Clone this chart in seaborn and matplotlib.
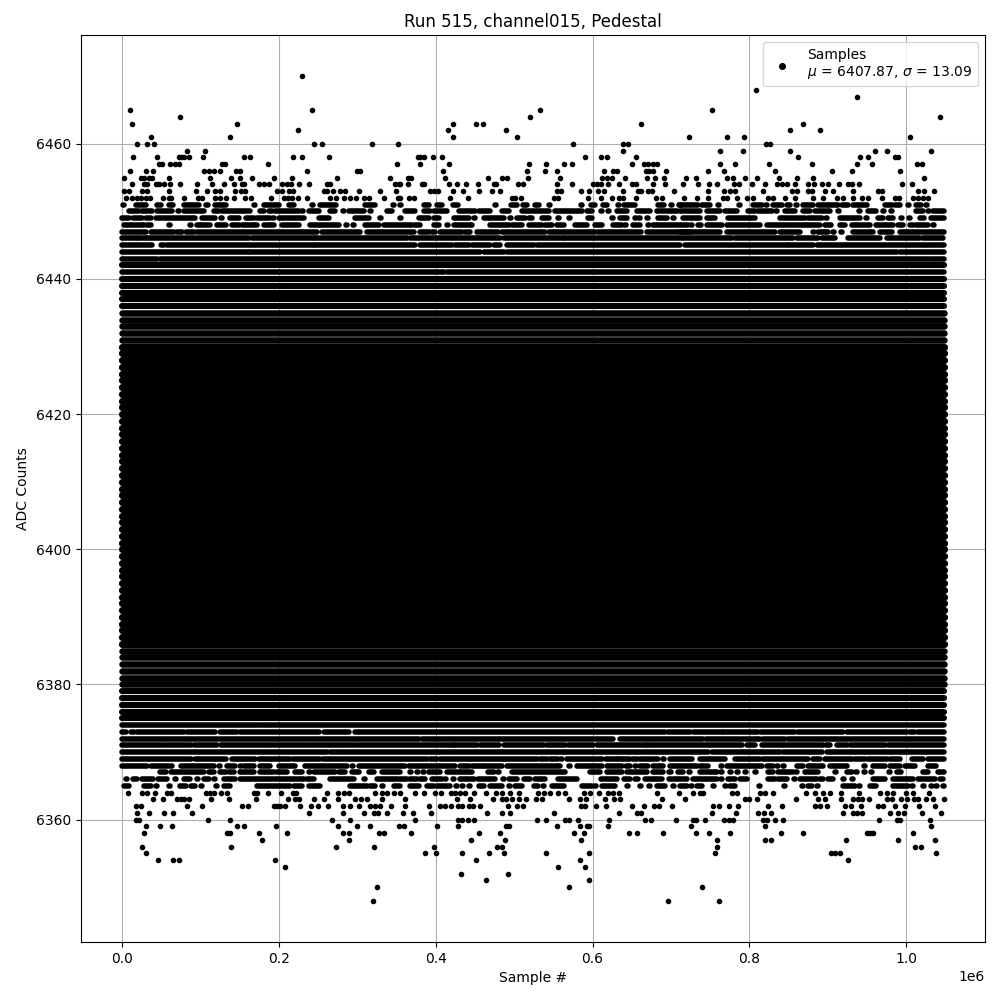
import matplotlib
matplotlib.use("Agg")
import matplotlib.pyplot as plt
import pandas as pd
import seaborn as sns

# ==========================================
# Values (samples in thousands)
# ==========================================
FIRST_SAMPLE = 0
LAST_SAMPLE = 1048

# sparse rows: every dot on the row
sparse_top = {
    6470: [229.1],
    6468: [808.8],
    6467: [937.4],
    6465: [10, 241.9, 532.3, 752.7],
    6464: [73.7, 519.6, 1043.2],
    6463: [12.5, 146.3, 421.5, 450.8, 459.7, 662.3, 868.6],
    6462: [224, 415.1, 489, 852.1, 890.3],
    6461: [36.7, 137.4, 421.5, 503, 723.4, 771.8, 793.5, 1005],
    6460: [18.9, 31.6, 40.6, 244.4, 254.6, 318.3, 351.4, 574.4, 639.4, 645.7, 821.1, 826.6],
    6459: [82.6, 105.5, 639.4, 762.9, 792.2, 852.1, 960.4, 975.7, 1031.7],
    6458: [13.8, 44.4, 72.4, 75.4, 78.8, 85.1, 103, 155.2, 162.9, 217.6, 229.1, 263.5,
           376.9, 380.3, 384.5, 396, 407.5, 589.7, 611.3, 619, 655.9, 862.3, 941.3, 951.5, 985.4, 989.7],
    6457: [46.9, 51.2, 61, 66.9, 72.4, 127.2, 130.6, 185.8, 350.1, 379.4, 416.4, 518.3, 541.2,
           562.9, 573.1, 650.8, 666.1, 671.2, 677.6, 682.7, 762.9, 782, 825.3, 880.1, 937.4, 956.6, 1013.9, 1020.3],
    6456: [10, 30.4, 39.3, 104.3, 110.6, 117, 124.6, 145, 150.1, 235.5, 299.6, 303, 408.7, 515.8,
           538.7, 554, 615.1, 626.6, 631.7, 668.2, 672.5, 677.6, 694.1, 747.2, 768, 832.9, 905.6, 931.1, 992.2],
    6455: [2.3, 23.6, 27.8, 34.2, 37.6, 59.7, 112.7, 138.7, 150.1, 165.4, 193.4, 216.4, 273.7, 341.2,
           364.1, 368.4, 411.3, 466, 483.9, 490.3, 517, 557.8, 612.6, 619, 625.3, 641.9, 669.9, 680.1,
           691.6, 719.6, 732.3, 771.8, 779.5, 794.7, 810, 838, 861, 881.4, 1022.8],
    6454: [12.5, 27.8, 32, 42.7, 46.9, 53.3, 60.9, 73.7, 95.3, 114.4, 129.7, 142.5, 153.1, 156, 174.3,
           180.7, 187.9, 204, 210.4, 215.5, 225.3, 238, 261.4, 264.8, 348.5, 352.7, 354.8, 364.1, 382.4,
           385.4, 416.4, 426.6, 438, 453.3, 473.7, 477.1, 504.3, 510.7, 554, 573.1, 601.1, 605.4, 611.3,
           620.2, 634.3, 650, 655.5, 677.6, 692.9, 715.7, 734.9, 748.9, 759.1, 780.7, 787.1, 803.7, 820.2,
           834.7, 841, 847.4, 858, 875, 882.7, 892.8, 900.5, 914.5, 926, 930.2, 940, 994.8, 1007.5],
    6453: [2.3, 8.7, 25.7, 32, 59.7, 94, 108.1, 119.1, 124.6, 143.7, 151.8, 157.3, 197.7, 204, 212.6,
           218.1, 257.1, 261.4, 268.6, 277.5, 283.9, 301.7, 328.5, 348.9, 393, 397.3, 402.4, 421.5, 434.2,
           454.6, 471.2, 481.4, 554.4, 559.5, 584.6, 596, 607.5, 615.1, 639.4, 658.5, 661.4, 671.2, 675.5,
           704.3, 747.2, 768, 775.2, 781.6, 816.8, 853.8, 860.1, 875, 879.3, 896.7, 906.9, 932.3, 964.2,
           968.9, 1015.2, 1022.8, 1035.5],
    6452: [4.9, 12.5, 19.3, 23.6, 29.9, 35.5, 52, 59.7, 62.6, 78.8, 96.6, 102.1, 119.1, 124.6, 131.9,
           142.5, 156.5, 164.1, 189.6, 206.2, 211.3, 216.8, 224, 235.5, 264.8, 272.4, 282.6, 290.3, 297.9,
           308.1, 314.5, 333.6, 351.4, 354.8, 365.4, 371.8, 417.7, 440.6, 497.1, 501.3, 508.1, 551.4, 556.5,
           593.5, 611.3, 625.3, 634.3, 638.5, 655.9, 681.4, 689, 717.1, 733.6, 747.2, 766.7, 771.8, 783.7,
           796.4, 804.1, 824, 830.4, 845.7, 858, 881.4, 894.1, 912, 919.6, 932.3, 943.8, 951.5, 969.3,
           985.4, 991, 1008.8, 1015.2, 1021.5, 1027.9],
}

sparse_bottom = {
    6348: [319.6, 696.7, 761.6],
    6350: [324.7, 570.5, 740],
    6351: [463.5, 594.8],
    6352: [431.7, 491.6],
    6353: [207.5, 555.3, 590.9],
    6354: [45.6, 64.8, 72.4, 194.7, 450.8, 583.3, 926],
    6355: [30.4, 385.8, 399.8, 433, 467.3, 486.5, 541.2, 594.8, 756.5, 903.9, 909, 915.8, 1038.1],
    6356: [25.3, 138.7, 272.4, 320.9, 397.3, 477.5, 483.9, 759, 1011.3, 1019],
    6357: [178.2, 289, 444.4, 487.7, 584.6, 759, 820.2, 827.9, 923.4, 989.7, 1036.8],
    6358: [27.8, 133.6, 138.2, 174.3, 210, 281.4, 289, 327.2, 333.6, 368, 454.6, 481.4, 576.9, 588.4,
           647, 657.2, 690.3, 732.4, 748.9, 775.6, 840.6, 868.6, 949.3, 953.5, 957.8, 1008.8],
    6359: [30.4, 48.2, 63.5, 146.3, 155.2, 196, 275, 299.2, 315.8, 352.7, 359, 401.1, 427.8, 489, 492.8,
           554, 583.3, 592.6, 596, 620.2, 726, 820.2, 1031.7],
    6360: [17.2, 21.4, 109.4, 137.4, 267.3, 290.3, 373, 427.8, 433, 440.6, 448.2, 528.5, 541.2, 565, 569.3,
           582, 621.5, 667.4, 675, 706.9, 728.5, 731.9, 743.8, 768, 774.4, 779.5, 817.7, 821.9, 833, 843.2,
           965.5, 987.6, 991.8, 1030.4],
    6361: [18.9, 34.2, 53.3, 64.8, 89, 238, 281.4, 308.1, 320.9, 326.4, 337.4, 357.8, 370.5, 394.3, 464.8,
           483.9, 494.1, 551.4, 634.3, 657.2, 662.3, 752.7, 783.3, 811.3, 818.9, 827.9, 919.6, 932.3, 937.5,
           943, 979.5, 989.7, 996.9, 1020.3, 1044.5],
    6362: [17.2, 23.6, 82.2, 102.1, 152.7, 160.3, 193.4, 197.5, 201.9, 207.5, 226.6, 240.6, 249.5, 263.1,
           281.4, 291.1, 302.6, 316.6, 323, 329.3, 342.5, 360.3, 390.9, 405.8, 412.1, 418.9, 427.8, 433.4,
           441.9, 448, 455.9, 491.6, 503, 510.7, 584.6, 590.9, 604.9, 617.7, 650.8, 666.1, 678.8, 685.2,
           701.8, 754, 761.6, 774.4, 785.8, 824, 841.9, 883.5, 890.3, 899.2, 922.2, 929.8, 942.5, 964.2,
           970.6, 985.9, 998.2, 1016.4, 1036.8],
    6363: [39.3, 52.4, 70.3, 74.5, 78.8, 85.1, 113.2, 136.1, 170.9, 211.3, 221, 225.3, 244.4, 257.1, 275,
           297.5, 305, 312.4, 331, 360.3, 426.6, 443.1, 472.4, 483.9, 489, 496.6, 505.6, 515.3, 527.2, 536.1,
           570.5, 583.3, 591.8, 616.4, 627.9, 635.1, 689, 718.4, 794.3, 799.8, 810, 859.7, 887.8, 896.2, 917,
           932.3, 938.7, 943.8, 952.7, 974.8, 981.2, 993.5, 1001.1, 1010, 1015.2, 1025.4, 1034.3, 1048],
    6364: [7.4, 25.7, 32, 41.8, 57.5, 62.6, 106.8, 111.9, 117, 125.9, 133.6, 168, 172.2, 185.8, 202.4, 217.6,
           221.9, 261, 275, 282.6, 289, 322.1, 331, 337.4, 346.3, 354.8, 373.9, 384.5, 399.4, 406.6, 418.9, 424,
           430.4, 436.8, 448.2, 463.5, 476.3, 483.9, 494.1, 505.6, 531, 537.4, 546.3, 556.5, 564.2, 588.4, 596.9,
           608.8, 620.2, 626.6, 634.3, 682.7, 710.7, 728.5, 737, 741.2, 777.3, 783.7, 813.4, 819.8, 830.4, 872,
           883.9, 894.1, 903, 917, 940, 966.3, 974.8, 983.3, 999.9, 1008.8, 1029.2],
}

# busy rows: stretches where the dots run together
busy_runs = {
    6451: [(711.5, 734.9), (739.1, 749.7), (760, 761), (771, 772), (787, 788), (804.9, 815.5), (821, 822),
           (829.6, 841), (847.4, 851.7), (860, 861), (868.6, 881.4), (887.8, 898.4), (900.5, 913.2), (917.5, 926),
           (931.5, 949.3), (957, 958), (972.7, 981.2), (985.4, 991.8), (1002, 1003), (1012.2, 1019.4), (1025, 1026),
           (1, 2), (17.2, 29.9), (44.8, 49.9), (59.7, 65.2), (78.8, 98.7), (106.4, 109.4), (119.1, 131.9), (151, 152),
           (160, 161), (168, 169), (180.7, 199.8), (212.6, 219), (242, 243), (252, 272.4), (310.2, 323), (331, 332),
           (346, 347), (354.8, 355.8), (385.4, 390.9), (401.5, 407.9), (421.5, 427.8), (476, 477), (495.8, 503),
           (510.7, 516.2), (526, 531.5), (545, 546), (568, 569), (585.8, 586.8), (598.2, 603.2), (613.9, 619),
           (633, 634), (640.6, 654.6), (683.9, 691.6), (700, 701), (710.7, 713.2)],
    6450: [(8.7, 21.4), (25.7, 38.4), (44.8, 63.9), (71, 72), (78.8, 104.3), (117, 123.4), (127.6, 163.7),
           (175.6, 180.7), (187.1, 191.3), (195.6, 225.3), (230, 231), (238, 250.8), (265.6, 272), (282, 283),
           (289, 308.1), (316, 317), (337.8, 344.2), (361.2, 373.9), (384.5, 393), (397.3, 414.3), (429.1, 450.4),
           (454.6, 469.5), (484.3, 492.8), (509.8, 543.8), (552.3, 565), (567.2, 586.3), (592.6, 599), (611, 612),
           (620, 621), (630.9, 643.6), (656.3, 673.3), (681.8, 692.4), (694.6, 707.3), (711.5, 737), (745.5, 762.5),
           (768.8, 783.7), (798.6, 807), (811.3, 828.3), (834, 835), (845.3, 858), (868.6, 877.1), (883.5, 902.6),
           (913, 914), (940, 941), (951.5, 962), (970, 971), (981, 982), (1013, 1021.5), (1028, 1029), (1034.3, 1048)],
    6449: [(0.2, 8.7), (13.8, 25.7), (29.9, 36.3), (42.7, 93.6), (102.1, 119.1), (126, 127), (138.2, 148.9),
           (158.6, 168), (172.2, 189.2), (193, 194), (199.8, 231.7), (243, 244), (250.8, 263.5), (285, 286),
           (297.5, 314.5), (329, 330), (345, 346), (354.8, 355.8), (378.2, 390.9), (397.3, 403.6), (410, 411),
           (422.8, 441.9), (449, 450), (461, 486.5), (495, 496), (503.4, 514), (518.3, 522.6), (535.3, 543.8),
           (556, 557), (570, 571), (593.5, 599), (605, 606), (625, 626), (635.1, 643.6), (654, 655), (659, 660),
           (670, 671), (683.9, 694.6), (703, 704), (715.8, 737), (745.5, 756.1), (762, 763), (773.1, 807), (813, 814),
           (821.9, 822.9), (838.9, 870.8), (875, 892), (898, 899), (915.4, 940.8), (949, 950), (964.2, 970.6),
           (976.9, 983.3), (993.9, 994.9), (1004, 1005), (1017, 1023), (1032.1, 1048)],
    6448: [(2.3, 27.8), (32, 36.3), (60, 61), (87, 88), (95.8, 112.7), (121.2, 131.9), (140.4, 148.9), (153.1, 172.2),
           (180.7, 193.4), (204, 225.3), (240.2, 276.3), (286, 287), (295, 296), (310.2, 327.2), (333.6, 369.7),
           (373.9, 380.3), (397.3, 403.6), (414, 415), (422.8, 446.1), (469.5, 492.8), (497.1, 509.8), (518.3, 535.3),
           (539.5, 548), (554.4, 562.9), (577.8, 592.6), (603.2, 611.7), (626.6, 637), (641, 642), (652, 660), (671, 672),
           (677.6, 709.4), (711.5, 722.2), (726, 727), (735, 738), (745.5, 764.6), (771, 813.4), (821.9, 851.7), (853.8, 889.9),
           (896, 904), (915.4, 921.7), (930.2, 953.6), (962, 983.3), (989.7, 996), (1004.5, 1008.8), (1013, 1027.9),
           (1034, 1035), (1045, 1046)],
    6447: [(0, 29.9), (36.3, 66), (70.3, 76.7), (80.9, 91.5), (95.8, 185), (187.1, 248.7), (255, 261.4), (263.5, 303.9),
           (312.4, 371.8), (380.3, 390.9), (395.1, 399.4), (405.8, 433.4), (437.6, 444), (452.5, 475.8), (478, 479),
           (484.3, 539.5), (543.8, 603.2), (607.5, 658.5), (661, 662), (669.1, 724.3), (711.5, 728.5), (730.6, 762.5),
           (771, 832.5), (838.9, 864.4), (881, 882), (887.8, 900.5), (907, 908), (917, 918), (932.3, 957.8), (966.3, 981.2),
           (991.8, 1048)],
    6446: [(0, 17.2), (19.3, 29.9), (32, 161.6), (165.8, 244.4), (246.5, 363.3), (367.5, 482.2), (486.5, 562.9), (565, 768.8),
           (771, 777.3), (781.6, 855.9), (860.1, 887.8), (892, 909), (926, 966.3), (974.8, 1017.3), (1021.5, 1047)],
    6445: [(0, 38.4), (49, 53.3), (57.5, 244.4), (246.5, 373.9), (380.3, 420.6), (424.9, 441.9), (446.1, 469.5), (473.7, 482.2),
           (490.7, 524.7), (528.9, 711.5), (717.9, 847.4), (849.5, 881.4), (885.6, 1048)],
    6444: [(0, 161.6), (163.7, 327.2), (330.2, 456.7), (461, 486.5), (490.7, 987.6), (991.8, 1048)],
    6443: [(0, 44.8), (48.2, 1027.9), (1030, 1048)],
    6441: [(0, 410), (414.3, 1048)],
    6374: [(0, 178.6), (180.7, 1048)],
    6373: [(0, 4.5), (10.8, 15), (19.3, 78.8), (82.2, 119.1), (124.6, 146.7), (150.1, 250.8), (257.1, 289), (297.5, 692.4),
           (696.7, 724.3), (727.6, 764.6), (766.7, 811.3), (814.3, 858), (862.3, 919.6), (924.7, 1000.3), (1004.5, 1010.9),
           (1015.2, 1025.8), (1029.2, 1048)],
    6372: [(0.2, 240.2), (242.3, 378.2), (382.4, 626.6), (635.1, 741.2), (744.6, 813.4), (817.7, 845.3), (849.5, 1048)],
    6371: [(0.2, 51.2), (53.3, 87.3), (91.5, 121.2), (125.5, 293.2), (296.2, 422.8), (424.9, 452.5), (456.7, 480.1), (486.5, 537.4),
           (541.7, 565), (568.4, 601.1), (605.4, 669.1), (671.2, 790), (796.4, 807), (815.5, 894.1), (898, 903), (911.1, 923.9),
           (928.1, 972.7), (976.9, 1048)],
    6370: [(0, 108.5), (110.6, 187.1), (190, 261.4), (265.6, 280.5), (282.6, 747.6), (751.8, 838.9), (843.2, 892), (898.4, 1048)],
    6369: [(0, 87.3), (93.6, 131.9), (140.4, 170), (174.3, 199.8), (202, 214.7), (218, 252.9), (256.3, 278.4), (280.5, 388.8),
           (393, 401.5), (405.8, 529), (533.2, 541.7), (545.9, 556.5), (560, 561), (567.2, 611.7), (617.3, 630.9), (633, 647.8),
           (652, 656), (660.6, 673.3), (676, 684), (690, 691), (698.8, 726.4), (737, 768.8), (781.6, 813.4), (817.7, 875),
           (881.4, 889.9), (896.2, 930.2), (934.5, 947.2), (951.5, 974.8), (979.1, 991.8), (1006.7, 1021.5), (1027.9, 1048)],
    6368: [(0, 32), (36.3, 59.7), (63, 64), (74.5, 117), (124, 125), (134, 144.6), (150, 151), (155.2, 168), (176.5, 189.2),
           (200.7, 221), (233.8, 286.9), (293, 294), (301.7, 361.2), (365.4, 405.8), (407.9, 424.9), (431.2, 441.9), (446.1, 461),
           (463.1, 484.3), (490.7, 558.7), (570, 571), (579.9, 611.7), (618.1, 637.2), (643, 648), (654, 655), (660.6, 671.2),
           (677.6, 690.3), (698.8, 732.7), (737, 747.6), (764, 765), (770.9, 815.5), (821.9, 830.4), (835, 836), (843, 844),
           (860.1, 868.6), (875, 894.1), (902.6, 923.9), (946, 947), (957, 972.7), (979.1, 991.8), (998.2, 1010.9), (1022, 1023),
           (1027.9, 1038.5)],
    6367: [(12, 13), (30, 31), (48.2, 55.4), (62.6, 104.3), (110.6, 117), (124.6, 131.9), (136.1, 142.5), (150.1, 168),
           (176.5, 193.4), (197.7, 210.4), (221, 229.5), (238, 239), (244.4, 272), (276.3, 284.8), (293.2, 301.7), (308, 309),
           (314.5, 320.9), (331.5, 354.8), (367, 368), (376, 377), (384, 385), (390.9, 405.8), (414.3, 446.1), (466, 473.7),
           (480, 481), (489, 490), (497.1, 565), (586, 587), (596.9, 609.6), (618.1, 637.2), (643.6, 669.1), (677.6, 690.3),
           (697, 700), (709.4, 715.8), (723, 724), (737, 758.2), (764, 765), (775, 776), (784, 785), (794, 795), (807, 808),
           (824, 830.4), (836.8, 855.9), (860, 861), (870.8, 887.8), (909, 910), (923.9, 930.2), (936, 937), (946, 947),
           (955, 956), (978, 979), (987.6, 993.9), (1021.5, 1027.9), (1040.6, 1048)],
    6366: [(4.9, 5.9), (13.8, 19.3), (25.7, 39.7), (45.6, 57.5), (68, 69), (78.8, 86.4), (96, 97), (104.3, 110.6), (117, 118),
           (129.7, 144.6), (150.1, 191.3), (193.4, 231.7), (235.9, 244.4), (264.8, 295.4), (309, 310), (325.1, 363.3),
           (367.5, 376), (380.3, 386.7), (395.1, 407.9), (412, 413), (422, 423), (430.4, 448.2), (453.3, 475.8), (486, 487),
           (492.8, 503.4), (511.9, 520.4), (526.8, 539.5), (556.5, 579.9), (610.5, 630.9), (640.2, 647.8), (654.2, 658.5),
           (666.9, 688.2), (698, 720), (728.5, 758.2), (764, 765), (773.1, 781.6), (787.9, 796.4), (804, 805), (824, 832.5),
           (836.8, 847.4), (857, 858), (864.4, 885.6), (889.9, 894.1), (900.5, 906.9), (919, 920), (931, 932), (947, 948),
           (957.8, 972.7), (983.3, 1008.8), (1015.2, 1036.4), (1042.8, 1047)],
    6365: [(2.3, 8.7), (27.8, 36.3), (43, 44), (60, 61), (73.7, 80.9), (87.3, 93.6), (101, 102), (120, 121), (129.7, 137.4), (155, 156),
           (164, 165), (172.2, 188.3), (191.3, 204), (206.2, 214.7), (218.9, 229.5), (238, 252.9), (262, 263), (271, 272),
           (290.3, 312.4), (316.6, 323), (332, 333), (346.3, 354.8), (367.5, 378.2), (388.8, 397.3), (401.5, 418.5), (426, 427),
           (434, 435), (443, 444), (454.6, 461), (469.5, 484.3), (494, 495), (501.3, 509.8), (524.7, 531), (537, 538),
           (548, 562.9), (587.1, 599), (603, 604), (611.7, 628.7), (644, 645), (661, 662), (672, 673), (681.8, 692.4), (703, 704),
           (711.5, 720), (726, 727), (732.7, 739.1), (754, 755), (769, 770), (775.2, 781.6), (812, 813), (822, 823), (844, 845),
           (867, 868), (875, 879.3), (886, 887), (919.6, 934.5), (940, 941), (953.6, 962), (983.3, 1002.4), (1007, 1008),
           (1021, 1022), (1032, 1033), (1038, 1039), (1047, 1048)],
}

# full rows, grouped by how far the overplotting closes the gap between rows
outer_levels = [6375, 6376, 6377, 6378, 6379, 6436, 6437, 6438, 6439, 6440, 6442]
middle_levels = [6380, 6381, 6382, 6383, 6384, 6385, 6431, 6432, 6433, 6434, 6435]
core_levels = [6386, 6387, 6388, 6389, 6390, 6391, 6392, 6393, 6394, 6395, 6396, 6397, 6398, 6399, 6400,
               6401, 6402, 6403, 6404, 6405, 6406, 6407, 6408, 6409, 6410, 6411, 6412, 6413, 6414, 6415,
               6416, 6417, 6418, 6419, 6420, 6421, 6422, 6423, 6424, 6425, 6426, 6427, 6428, 6429, 6430]

LABEL = "Samples\n$\\mu$ = 6407.87, $\\sigma$ = 13.09"

# ==========================================
# Build tables
# ==========================================
dots = pd.DataFrame(
    [(s * 1000, lvl) for rows in (sparse_top, sparse_bottom) for lvl, vals in rows.items() for s in vals],
    columns=["sample", "adc"],
)


def runs_table(spans_by_level):
    rows = []
    for lvl, spans in spans_by_level.items():
        for start, end in spans:
            run = f"{lvl}_{start}"
            rows.append((run, start * 1000, lvl))
            rows.append((run, end * 1000, lvl))
    return pd.DataFrame(rows, columns=["run", "sample", "adc"])


def full_rows(levels):
    return {lvl: [(FIRST_SAMPLE, LAST_SAMPLE)] for lvl in levels}


# ==========================================
# Plot
# ==========================================
fig, ax = plt.subplots(figsize=(10, 10), dpi=100)

for table, width in [
    (runs_table(busy_runs), 4.0),
    (runs_table(full_rows(outer_levels)), 4.4),
    (runs_table(full_rows(middle_levels)), 4.7),
    (runs_table(full_rows(core_levels)), 5.2),
]:
    sns.lineplot(
        data=table, x="sample", y="adc", units="run", estimator=None, color="black",
        linewidth=width, solid_capstyle="round", legend=False, ax=ax, zorder=2,
    )

sns.scatterplot(
    data=dots, x="sample", y="adc", color="black", s=9, linewidth=1,
    edgecolor="black", label=LABEL, ax=ax, zorder=2,
)

ax.grid(True)
ax.set_title("Run 515, channel015, Pedestal")
ax.set_xlabel("Sample #")
ax.set_ylabel("ADC Counts")
ax.legend(loc="upper right", markerscale=1.35)

fig.subplots_adjust(left=0.081, right=0.985, top=0.965, bottom=0.058)
plt.savefig("out.png", dpi=100)
plt.close()
